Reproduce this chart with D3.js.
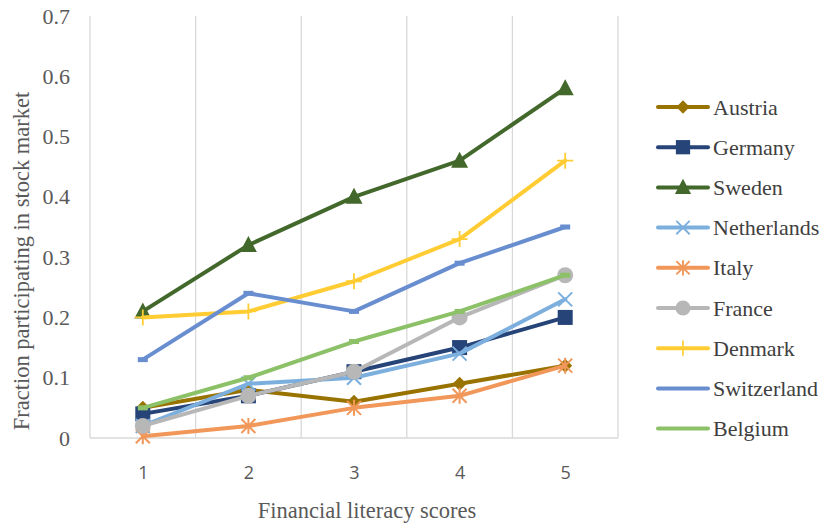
<!DOCTYPE html>
<html>
<head>
<meta charset="utf-8">
<script src="https://cdn.jsdelivr.net/npm/d3@7"></script>
<style>
  body { margin: 0; background: #fff; }
  svg { display: block; }
</style>
</head>
<body>
<svg id="chart" width="825" height="524"></svg>
<script>
// data
var scores = [1, 2, 3, 4, 5];
var yTicks = [0, 0.1, 0.2, 0.3, 0.4, 0.5, 0.6, 0.7];

var austria     = [0.05, 0.08, 0.06, 0.09, 0.12];
var germany     = [0.04, 0.07, 0.11, 0.15, 0.20];
var sweden      = [0.21, 0.32, 0.40, 0.46, 0.58];
var netherlands = [0.02, 0.09, 0.10, 0.14, 0.23];
var italy       = [0.003, 0.02, 0.05, 0.07, 0.12];
var france      = [0.02, 0.07, 0.11, 0.20, 0.27];
var denmark     = [0.20, 0.21, 0.26, 0.33, 0.46];
var switzerland = [0.13, 0.24, 0.21, 0.29, 0.35];
var belgium     = [0.05, 0.10, 0.16, 0.21, 0.27];

var countries = ["Austria", "Germany", "Sweden", "Netherlands", "Italy",
                 "France", "Denmark", "Switzerland", "Belgium"];
var values = [austria, germany, sweden, netherlands, italy,
              france, denmark, switzerland, belgium];
var colors = ["#997300", "#264478", "#43682B", "#7CAFDD", "#F1975A",
              "#B7B7B7", "#FFCD33", "#698ED0", "#8CC168"];
var markers = ["diamond", "square", "triangle", "x", "star",
               "circle", "plus", "dash", "dash"];

var series = countries.map(function (c, i) {
    return {name: c, values: values[i], color: colors[i], marker: markers[i]};
});

var serif = "'Liberation Serif', 'Times New Roman', serif";

var svg = d3.select("#chart");
// plot area edges ("top" is taken by window.top, so prefix them)
var plotLeft = 90, plotRight = 618, plotTop = 16, plotBottom = 438;

var x = d3.scalePoint().domain(scores).range([plotLeft, plotRight]).padding(0.5);
var y = d3.scaleLinear().domain([0, 0.7]).range([plotBottom, plotTop]);
var step = x.step();

// vertical gridlines between categories
var grid = svg.append("g").attr("class", "grid");
d3.range(scores.length + 1).forEach(function (i) {
    var gx = plotLeft + i * step;
    grid.append("line")
        .attr("x1", gx).attr("x2", gx)
        .attr("y1", plotTop).attr("y2", plotBottom)
        .attr("stroke", "#d9d9d9")
        .attr("stroke-width", 1.3);
});
grid.append("line")
    .attr("x1", plotLeft).attr("x2", plotRight)
    .attr("y1", plotBottom).attr("y2", plotBottom)
    .attr("stroke", "#d9d9d9")
    .attr("stroke-width", 1.3);

// y axis labels
var yAxis = svg.append("g")
    .attr("transform", "translate(" + (plotLeft - 12) + ",0)")
    .call(d3.axisLeft(y).tickValues(yTicks).tickSize(0).tickPadding(8)
        .tickFormat(function (d) { return d === 0 ? "0" : d3.format(".1f")(d); }));
yAxis.select(".domain").remove();
yAxis.selectAll("text")
    .attr("font-family", serif)
    .attr("font-size", 22)
    .attr("fill", "#595959");

// x axis labels
var xAxis = svg.append("g")
    .attr("transform", "translate(0," + plotBottom + ")")
    .call(d3.axisBottom(x).tickSize(0).tickPadding(28));
xAxis.select(".domain").remove();
xAxis.selectAll("text")
    .attr("font-family", "'Open Sans', 'Liberation Sans', sans-serif")
    .attr("font-size", 18)
    .attr("fill", "#595959");

// axis titles
svg.append("text")
    .attr("transform", "translate(29,261) rotate(-90)")
    .attr("text-anchor", "middle")
    .attr("font-family", serif)
    .attr("font-size", 22.5)
    .attr("fill", "#595959")
    .text("Fraction participating in stock market");

svg.append("text")
    .attr("x", 367)
    .attr("y", 518)
    .attr("text-anchor", "middle")
    .attr("font-family", serif)
    .attr("font-size", 22.5)
    .attr("fill", "#595959")
    .text("Financial literacy scores");

// draws one marker centred on 0,0
function draw_marker(g, type, color, s) {
    s = s || 1;
    if (type === "diamond") {
        g.append("path").attr("d", "M0,-7L7,0L0,7L-7,0Z").attr("fill", color)
            .attr("transform", "scale(" + s + ")");
    } else if (type === "square") {
        g.append("rect").attr("x", -7.5 * s).attr("y", -7.5 * s)
            .attr("width", 15 * s).attr("height", 15 * s).attr("fill", color);
    } else if (type === "triangle") {
        g.append("path").attr("d", "M0,-9L8.5,7L-8.5,7Z").attr("fill", color)
            .attr("transform", "scale(" + s + ")");
    } else if (type === "x") {
        g.append("path").attr("d", "M-7,-7L7,7M-7,7L7,-7")
            .attr("stroke", color).attr("stroke-width", 2).attr("fill", "none")
            .attr("transform", "scale(" + s + ")");
    } else if (type === "star") {
        g.append("path").attr("d", "M-7,-7L7,7M-7,7L7,-7M0,-8L0,8")
            .attr("stroke", color).attr("stroke-width", 2).attr("fill", "none")
            .attr("transform", "scale(" + s + ")");
    } else if (type === "circle") {
        g.append("circle").attr("r", 8 * s).attr("fill", color);
    } else if (type === "plus") {
        g.append("path").attr("d", "M-8,0L8,0M0,-8L0,8")
            .attr("stroke", color).attr("stroke-width", 1.8).attr("fill", "none")
            .attr("transform", "scale(" + s + ")");
    } else if (type === "dash") {
        g.append("rect").attr("x", -5 * s).attr("y", -2.5).attr("width", 10 * s)
            .attr("height", 5).attr("fill", color);
    }
}

var line = d3.line()
    .x(function (d, i) { return x(scores[i]); })
    .y(function (d) { return y(d); });

var plot = svg.append("g").attr("class", "series");
series.forEach(function (s) {
    var g = plot.append("g");
    g.append("path")
        .attr("d", line(s.values))
        .attr("fill", "none")
        .attr("stroke", s.color)
        .attr("stroke-width", 4)
        .attr("stroke-linejoin", "round")
        .attr("stroke-linecap", "round");
    s.values.forEach(function (v, i) {
        var m = g.append("g")
            .attr("transform", "translate(" + x(scores[i]) + "," + y(v) + ")");
        draw_marker(m, s.marker, s.color);
    });
});

// legend
var legend = svg.append("g").attr("class", "legend");
series.forEach(function (s, i) {
    var ly = 107 + i * 40.2;
    var row = legend.append("g");
    row.append("line")
        .attr("x1", 658).attr("x2", 708)
        .attr("y1", ly).attr("y2", ly)
        .attr("stroke", s.color)
        .attr("stroke-width", 4)
        .attr("stroke-linecap", "round");
    if (s.marker !== "dash") {
        var m = row.append("g").attr("transform", "translate(683," + ly + ")");
        draw_marker(m, s.marker, s.color, 0.95);
    }
    row.append("text")
        .attr("x", 713)
        .attr("y", ly + 7.5)
        .attr("font-family", serif)
        .attr("font-size", 22)
        .attr("fill", "#404040")
        .text(s.name);
});
</script>
</body>
</html>
